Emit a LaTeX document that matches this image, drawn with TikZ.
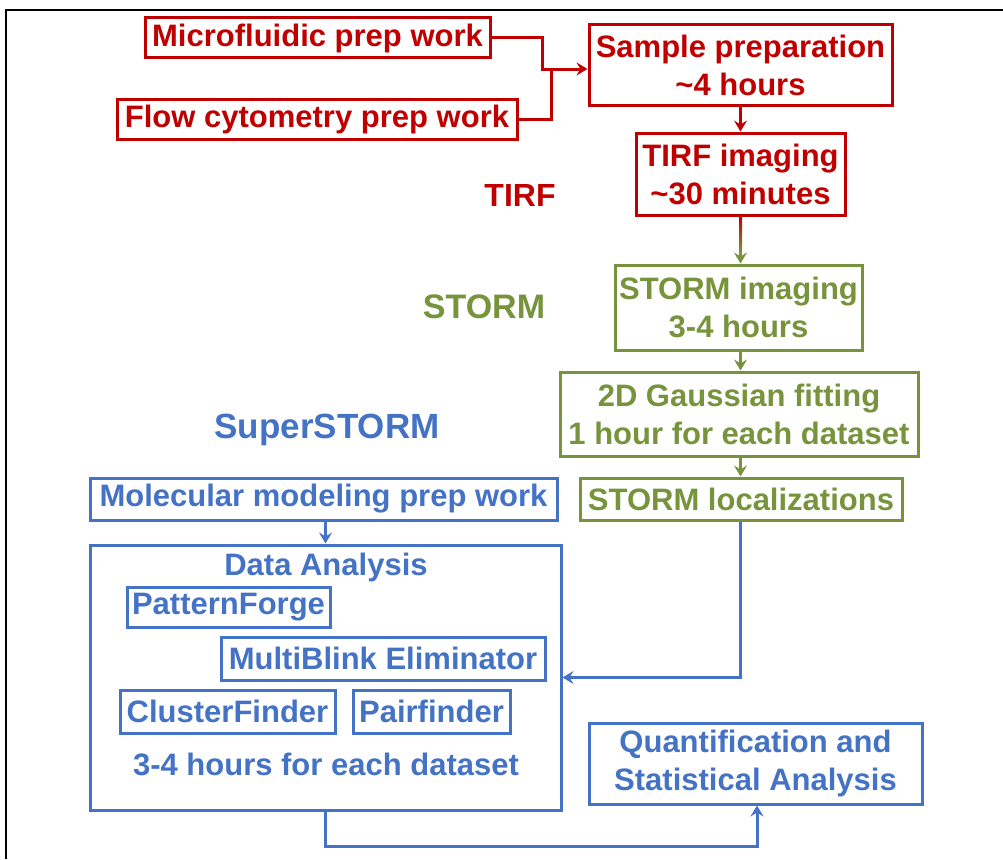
\documentclass[tikz,border=0pt]{standalone}
\usepackage{fontspec}
\setmainfont{Liberation Sans}
\usetikzlibrary{arrows.meta,calc}
\definecolor{fred}{HTML}{C00000}
\definecolor{fgreen}{HTML}{77933C}
\definecolor{fblue}{HTML}{4472C4}
\tikzset{
  boxbase/.style={draw, rectangle, line width=3pt, inner sep=0pt, align=center,
    font=\bfseries\fontsize{31}{38}\selectfont},
  redbox/.style={boxbase, draw=fred, text=fred},
  greenbox/.style={boxbase, draw=fgreen, text=fgreen},
  bluebox/.style={boxbase, draw=fblue, text=fblue},
  bluetext/.style={text=fblue, inner sep=0pt, font=\bfseries\fontsize{31}{38}\selectfont},
  stagelabel/.style={inner sep=0pt, font=\bfseries\fontsize{34}{40}\selectfont},
  link/.style={line width=3pt},
  tip/.style={-{Stealth[length=11pt,width=13pt,inset=4pt]}}
}
\begin{document}
\begin{tikzpicture}[x=1pt,y=-1pt]
\useasboundingbox (0,0) rectangle (1003,859);
% outer frame
\draw[black, line width=2pt] (1003,10) -- (6,10) -- (6,859);

% TIRF stage
\node[redbox, minimum width=345pt, minimum height=40pt] (micro) at (317.5,38) {Microfluidic prep work};
\node[redbox, minimum width=400pt, minimum height=40pt] (flow) at (317,119) {Flow cytometry prep work};
\node[redbox, minimum width=303pt, minimum height=80pt] (sample) at (740.5,65) {Sample preparation\\\textasciitilde4 hours};
\node[redbox, minimum width=209pt, minimum height=82pt] (tirf) at (740.5,174) {TIRF imaging\\\textasciitilde30 minutes};
\node[stagelabel, text=fred, font=\bfseries\fontsize{32}{38}\selectfont] (tirflabel) at (520,195) {TIRF};

% STORM stage
\node[stagelabel, text=fgreen] (stormlabel) at (484,307) {STORM};
\node[greenbox, minimum width=247pt, minimum height=85pt] (stormimg) at (738.5,307.5) {STORM imaging\\3-4 hours};
\node[greenbox, minimum width=358pt, minimum height=84pt] (gauss) at (739,414) {2D Gaussian fitting\\1 hour for each dataset};
\node[greenbox, minimum width=322pt, minimum height=42pt] (stormloc) at (741,499) {STORM localizations};

% SuperSTORM stage
\node[stagelabel, text=fblue, font=\bfseries\fontsize{35}{40}\selectfont] (superlabel) at (327,430) {SuperSTORM};
\node[bluebox, minimum width=467pt, minimum height=42pt] (molec) at (323.5,499) {Molecular modeling prep work};
\node[bluebox, minimum width=471pt, minimum height=265pt] (data) at (325.5,677.5) {};
\node[bluetext] (datatitle) at (326,567) {Data Analysis};
\node[bluebox, minimum width=203pt, minimum height=40pt] (pf) at (228.5,607) {PatternForge};
\node[bluebox, minimum width=324pt, minimum height=43pt] (mb) at (383,658.5) {MultiBlink Eliminator};
\node[bluebox, minimum width=215pt, minimum height=43pt] (cf) at (227.5,711.5) {ClusterFinder};
\node[bluebox, minimum width=157pt, minimum height=43pt] (pair) at (431.5,711.5) {Pairfinder};
\node[bluetext] (datatime) at (326,764) {3-4 hours for each dataset};
\node[bluebox, minimum width=333pt, minimum height=81pt] (quant) at (755.5,763.5) {Quantification and\\Statistical Analysis};

% red connectors: the two prep lines join just left of the sample box
\coordinate (samplein) at ($(sample.west)+(0,4)$);
\draw[link, fred] (flow.east) -| ($(samplein)+(-36,0)$);
\draw[link, fred, tip] (micro.east) -- ++(51,0) |- (samplein);
\draw[link, fred, tip] (sample.south) -- (sample.south |- tirf.north);

% red-to-green connector
\coordinate (tgtop) at (tirf.south);
\coordinate (tgbot) at (tirf.south |- stormimg.north);
\shade[top color=fred, bottom color=fgreen] ($(tgtop)+(-1.5,0)$) rectangle ($(tgbot)+(1.5,-12)$);
\draw[link, fgreen, tip] ($(tgbot)+(0,-14)$) -- (tgbot);

% green connectors
\draw[link, fgreen, tip] (stormimg.south -| tgtop) -- (gauss.north -| tgtop);
\draw[link, fgreen, tip] (gauss.south -| tgtop) -- (stormloc.north -| tgtop);

% blue connectors
\draw[link, fblue, tip] (stormloc.south -| tgtop) |- (data.east);
\draw[link, fblue, tip] (data.north |- molec.south) -- (data.north);
\draw[link, fblue, tip] (data.south) -- ++(0,35) -| ($(quant.south)+(1.5,0)$);
\end{tikzpicture}
\end{document}
